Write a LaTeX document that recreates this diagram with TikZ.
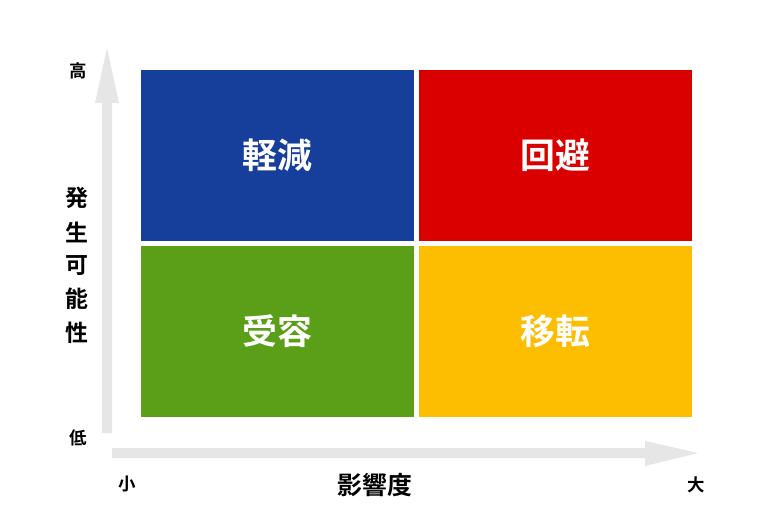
\documentclass[tikz,border=0pt]{standalone}
\usepackage{fontspec}
\setmainfont{Noto Sans CJK JP}[BoldFont={Noto Sans CJK JP Bold}]
\definecolor{qblue}{HTML}{163E9B}
\definecolor{qred}{HTML}{DB0000}
\definecolor{qgreen}{HTML}{5B9E17}
\definecolor{qorange}{HTML}{FDBD00}
\definecolor{arrowgrey}{HTML}{E6E6E6}
\tikzset{
  quad/.style={minimum width=273bp, minimum height=171bp, inner sep=0pt, text=white, font=\fontsize{35}{35}\selectfont\bfseries},
  axisarrow/.style={fill=arrowgrey, draw=none},
  ticklabel/.style={inner sep=0pt, font=\fontsize{17.5}{17.5}\selectfont\bfseries},
  axislabel/.style={inner sep=0pt, font=\fontsize{23}{23}\selectfont\bfseries},
  xlabel/.style={inner sep=0pt, font=\fontsize{25}{25}\selectfont\bfseries},
}
\begin{document}
\begin{tikzpicture}[x=1bp,y=-1bp]
\useasboundingbox[fill=white] (0,0) rectangle (773,524);
% axes
\fill[axisarrow] (102,433) -- (102,103) -- (95,103) -- (107,48) -- (119,103) -- (112,103) -- (112,433) -- cycle;
\fill[axisarrow] (112,448) -- (645,448) -- (645,441) -- (698,453) -- (645,466) -- (645,458) -- (112,458) -- cycle;
% quadrants
\node[quad, fill=qblue]   (mit) at (277.5,155.5) {軽減};
\node[quad, fill=qred]    (avo) at (555,155.5) {回避};
\node[quad, fill=qgreen]  (acc) at (277.5,331.5) {受容};
\node[quad, fill=qorange] (tra) at (555,331.5) {移転};
% labels
\node[ticklabel] (hi) at (78,71) {高};
\node[ticklabel] (lo) at (78,438) {低};
\node[ticklabel] (sm) at (127,484) {小};
\node[ticklabel] (bg) at (696,485) {大};
\node[xlabel] (imp) at (375,485) {影響度};
\node[axislabel] (p1) at (77,198) {発};
\node[axislabel] (p2) at (77,232) {生};
\node[axislabel] (p3) at (77,266) {可};
\node[axislabel] (p4) at (77,299) {能};
\node[axislabel] (p5) at (77,333) {性};
\end{tikzpicture}
\end{document}
